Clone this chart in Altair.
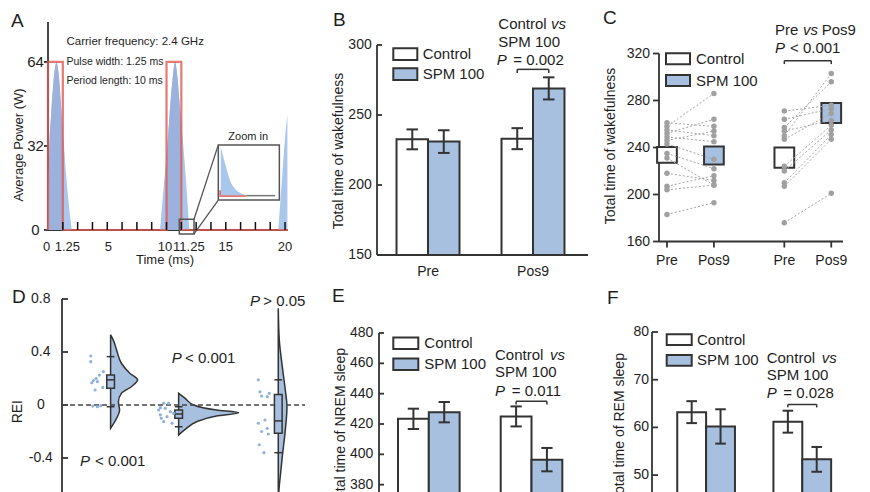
import altair as alt
import pandas as pd

# ============================================================ data
GROUPS = ["Control", "SPM 100"]
PERIODS = ["Pre", "Pos9"]

# A: pulse train (time in ms, power in W)
PULSE1_T = [0.0, 0.03, 0.11, 0.25, 0.45, 0.6, 0.73, 0.85, 0.93, 1.07, 1.2, 1.35, 1.55, 1.72, 2.0]
PULSE1_P = [0, 11, 30, 43, 56, 62, 64, 61, 58, 49.5, 41, 32, 20, 11.4, 0]
PULSE2_T = [9.45, 9.79, 10.07, 10.35, 10.55, 10.72, 10.9, 11.08, 11.42, 11.7, 11.92]
PULSE2_P = [0, 17.8, 32, 49.5, 59, 64, 59, 49.5, 32, 15.2, 0]
PULSE3_T = [19.43, 19.72, 19.92, 20.06, 20.2]
PULSE3_P = [0, 17.8, 30.5, 38, 44]
# part of each pulse inside the 1.25 ms window (drawn darker in the figure)
INNER1_T = [0.0, 0.03, 0.11, 0.25, 0.45, 0.6, 0.73, 0.85, 0.93, 1.07, 1.2, 1.25]
INNER1_P = [0, 11, 30, 43, 56, 62, 64, 61, 58, 49.5, 41, 38]
INNER2_T = [10.0, 10.07, 10.35, 10.55, 10.72, 10.9, 11.08, 11.25]
INNER2_P = [28.5, 32, 49.5, 59, 64, 59, 49.5, 41]
SIGNAL_T = [0, 0, 1.25, 1.25, 10, 10, 11.25, 11.25, 20.25]
SIGNAL_P = [0, 64, 64, 0, 0, 64, 64, 0, 0]
A_MINOR_TICKS = [1.25, 2.5, 3.75, 5, 6.25, 7.5, 8.75, 10, 11.25, 12.5, 13.75, 15, 16.25, 17.5, 18.75, 20]
A_X_LABELS = [0, 1.25, 5, 10, 11.25, 15, 20]
A_Y_TICKS = [0, 32, 64]
A_NOTES = ["Carrier frequency: 2.4 GHz", "Pulse width: 1.25 ms", "Period length: 10 ms"]
# zoom-in inset, as fractions of the inset box
ZOOM_FX = [0.04, 0.08, 0.14, 0.19, 0.27, 0.36, 0.46]
ZOOM_FY = [0.97, 0.79, 0.55, 0.36, 0.21, 0.13, 0.09]
ZOOM_BASE = 0.08
ZOOM_RED_FX = [0.03, 0.03, 0.46]
ZOOM_RED_FY = [0.18, 0.07, 0.07]
ZOOM_AXIS_FX = [0.46, 0.93]
ZOOM_AXIS_FY = [0.08, 0.08]

# B: total time of wakefulness (mean, SEM)
B_CTRL = [232.6, 233.1]
B_CTRL_SEM = [7.1, 7.5]
B_SPM = [231.0, 269.0]
B_SPM_SEM = [8.1, 7.9]
B_Y_TICKS = [150, 200, 250, 300]

# C: individual animals, Pre -> Pos9
C_G1_PRE = [261, 258, 255, 252, 249, 246, 243, 235, 231, 218, 207, 204, 183]
C_G1_POS9 = [258, 286, 250, 264, 245, 254, 230, 222, 208, 212, 216, 208, 193]
C_G2_PRE = [271, 264, 257, 254, 250, 247, 224, 220, 210, 207, 176]
C_G2_POS9 = [276, 273, 296, 263, 303, 269, 259, 255, 251, 247, 201]
C_BOX_LOW = [227.0, 225.5, 222.7, 260.8]
C_BOX_HIGH = [240.4, 240.8, 240.0, 277.8]
C_BOX_FILL = ["Control", "SPM 100", "Control", "SPM 100"]
C_X_LABELS = ["Pre", "Pos9", "Pre", "Pos9"]
C_Y_TICKS = [160, 200, 240, 280, 320]

# D: REI, half violins + box plots + strip
D_VIOLIN_VAL = [
    [0.53, 0.49, 0.415, 0.315, 0.24, 0.19, 0.14, 0.088, 0.025, -0.04, -0.1, -0.176],
    [0.088, 0.05, 0.0, -0.038, -0.058, -0.083, -0.126, -0.176, -0.226],
    [0.73, 0.49, 0.29, 0.113, -0.013, -0.19, -0.39, -0.54, -0.64, -0.75],
]
D_VIOLIN_DENS = [
    [0, 0.045, 0.10, 0.18, 0.32, 0.45, 0.35, 0.18, 0.13, 0.15, 0.10, 0],
    [0, 0.11, 0.25, 0.63, 1.0, 0.63, 0.30, 0.13, 0],
    [0, 0.017, 0.067, 0.117, 0.145, 0.117, 0.067, 0.033, 0.012, 0.004],
]
D_Q1 = [0.126, -0.100, -0.214]
D_MED = [0.190, -0.068, -0.120]
D_Q3 = [0.226, -0.038, 0.080]
D_WLO = [-0.013, -0.164, -0.360]
D_WHI = [0.365, -0.013, 0.190]
D_DOT_VAL = [
    [0.37, 0.327, 0.252, 0.226, 0.2, 0.184, 0.176, 0.168, 0.133, 0.113, -0.008, -0.013, -0.005],
    [0.013, -0.038, -0.025, -0.05, -0.075, -0.088, -0.126, -0.138, -0.063, 0.013, -0.1, -0.02],
    [0.19, 0.1, 0.068, 0.063, 0.088, -0.138, -0.113, -0.2, -0.176, -0.219, -0.3, -0.36],
]
D_DOT_JITTER_PX = [
    [-19.8, -19.8, -7.2, -11.2, -14.5, -17.2, -13.2, -18.8, -7.8, -15.5, -17.8, -13.2, -9.8],
    [-15, -20, -13.3, -8.3, -18.3, -11.6, -15, -6.6, -5, -10, -17.3, -18.3],
    [-20, -18.3, -16.6, -11, -9, -20, -13.3, -16.6, -11, -10, -19, -14.3],
]
D_Y_TICKS = [-0.4, 0, 0.4, 0.8]
D_P_TEXT = ["< 0.001", "< 0.001", "> 0.05"]

# E: total time of NREM sleep
E_CTRL = [423.4, 425.0]
E_CTRL_SEM = [6.7, 6.6]
E_SPM = [427.8, 396.5]
E_SPM_SEM = [6.7, 7.7]
E_Y_TICKS = [360, 380, 400, 420, 440, 460, 480]

# F: total time of REM sleep
F_CTRL = [63.2, 61.2]
F_CTRL_SEM = [2.3, 2.3]
F_SPM = [60.2, 53.3]
F_SPM_SEM = [3.6, 2.6]
F_Y_TICKS = [40, 50, 60, 70, 80]

# ============================================================ layout / style
M = 8                 # page margin
W, H = 854, 484
FONT = "Liberation Sans"
DARK = "#333333"
TXT = "#1e1e1e"
BLUE = "#a7c0e0"
PULSE_BLUE = "#a9c6ec"
PULSE_INNER = "#9cb2dc"
RED = "#e0574f"
DOT_GRAY = "#a0a0a0"
LINE_GRAY = "#a6a6a6"
DOT_BLUE = "#8fb1de"
FILLS = {"Control": "#ffffff", "SPM 100": BLUE}
BAR_W = 0.3
CAP = 0.055
AX_W = 1.8
A_X_LABEL_SHIFT_PX = [-1.5, 4.5, 1, -1.5, 7.5, 0, 0]   # the figure nudges crowded labels


def px(v):
    return v - M


def lin(domain, p0, p1):
    return alt.Scale(domain=domain, range=[px(p0), px(p1)], nice=False, zero=False)


def upp(domain, p0, p1):
    return (domain[1] - domain[0]) / (p1 - p0)


def XQ(f, s):
    return alt.X(f, type="quantitative", scale=s, axis=None)


def YQ(f, s):
    return alt.Y(f, type="quantitative", scale=s, axis=None, stack=False)


def fmt(v):
    return f"{v:g}"


def v_axis(xs, ys, xd, xr, yd, values, labels, tick_px, inward, gap, fs=14, align="right"):
    """left axis drawn through the panel scales: domain line, ticks, labels"""
    u = upp(xd, *xr)
    a = xd[0]
    dom = pd.DataFrame({"a": [a], "y0": [yd[0]], "y1": [yd[1]]})
    out = [alt.Chart(dom).mark_rule(color=DARK, strokeWidth=AX_W).encode(
        x=XQ("a", xs), y=YQ("y0", ys), y2="y1")]
    tk = pd.DataFrame({"v": values, "lab": labels})
    tk["a"] = a
    tk["b"] = a + (tick_px if inward else -tick_px) * u
    if tick_px > 0:
        out.append(alt.Chart(tk).mark_rule(color=DARK, strokeWidth=AX_W).encode(
            x=XQ("a", xs), x2="b", y=YQ("v", ys)))
    out.append(alt.Chart(tk).mark_text(align=align, baseline="middle", dx=-gap, fontSize=fs,
                                       font=FONT, color=TXT).encode(
        x=XQ("a", xs), y=YQ("v", ys), text="lab:N"))
    return out


def h_axis(xs, ys, xd, xr, yd, yr, values, labels, tick_px, gap, fs=14, shift_px=None):
    """bottom axis drawn through the panel scales"""
    uy = (yd[1] - yd[0]) / (yr[0] - yr[1])
    ux = upp(xd, *xr)
    b = yd[0]
    dom = pd.DataFrame({"x0": [xd[0]], "x1": [xd[1]], "b": [b]})
    out = [alt.Chart(dom).mark_rule(color=DARK, strokeWidth=AX_W).encode(
        x=XQ("x0", xs), x2="x1", y=YQ("b", ys))]
    tk = pd.DataFrame({"v": values, "lab": labels})
    tk["b"] = b
    tk["c"] = b - tick_px * uy
    tk["lx"] = [v + s * ux for v, s in zip(values, shift_px or [0] * len(values))]
    if tick_px > 0:
        out.append(alt.Chart(tk).mark_rule(color=DARK, strokeWidth=AX_W).encode(
            x=XQ("v", xs), y=YQ("b", ys), y2="c"))
    out.append(alt.Chart(tk).mark_text(align="center", baseline="middle", dy=gap, fontSize=fs,
                                       font=FONT, color=TXT).encode(
        x=XQ("lx", xs), y=YQ("b", ys), text="lab:N"))
    return out


# ============================================================ panel A
A_XD, A_XR, A_YD, A_YR = [0, 20.25], (48, 288), [0, 79.2], (230, 22)
xA = lin(A_XD, *A_XR)
yA = lin(A_YD, *A_YR)

pulse_df = pd.concat([pd.DataFrame({"pulse": k, "t": t, "p": p}) for k, (t, p) in
                      enumerate([(PULSE1_T, PULSE1_P), (PULSE2_T, PULSE2_P), (PULSE3_T, PULSE3_P)])],
                     ignore_index=True)
a_pulses = alt.Chart(pulse_df).mark_area(color=PULSE_BLUE, interpolate="monotone").encode(
    x=XQ("t", xA), y=YQ("p", yA), detail="pulse:N")
inner_df = pd.concat([pd.DataFrame({"pulse": k, "t": t, "p": p}) for k, (t, p) in
                      enumerate([(INNER1_T, INNER1_P), (INNER2_T, INNER2_P)])], ignore_index=True)
a_inner = alt.Chart(inner_df).mark_area(color=PULSE_INNER, interpolate="monotone").encode(
    x=XQ("t", xA), y=YQ("p", yA), detail="pulse:N")

sig_df = pd.DataFrame({"i": range(len(SIGNAL_T)), "t": SIGNAL_T, "p": SIGNAL_P})
a_signal = alt.Chart(sig_df).mark_line(color=RED, strokeWidth=2.2, opacity=0.8).encode(
    x=XQ("t", xA), y=YQ("p", yA), order="i:Q")

tick_df = pd.DataFrame({"t": A_MINOR_TICKS})
tick_df["p0"] = 0
tick_df["p1"] = 8 * upp(A_YD, A_YR[1], A_YR[0])
a_ticks = alt.Chart(tick_df).mark_rule(color="#111111", strokeWidth=1.5).encode(
    x=XQ("t", xA), y=YQ("p0", yA), y2="p1")

ZOOM_BOX = (14.37, 19.52, 11.4, 32.4)   # inset box in data units (t0, t1, p0, p1)
SOURCE_BOX = (11.08, 12.32, -1.5, 4.1)


def zt(f):
    return ZOOM_BOX[0] + f * (ZOOM_BOX[1] - ZOOM_BOX[0])


def zp(f):
    return ZOOM_BOX[2] + f * (ZOOM_BOX[3] - ZOOM_BOX[2])


zoom_df = pd.DataFrame({"t": [zt(f) for f in ZOOM_FX], "p": [zp(f) for f in ZOOM_FY]})
zoom_df["pb"] = zp(ZOOM_BASE)
a_zarea = alt.Chart(zoom_df).mark_area(color=PULSE_BLUE, interpolate="monotone").encode(
    x=XQ("t", xA), y=YQ("p", yA), y2="pb")
zred_df = pd.DataFrame({"i": range(3), "t": [zt(f) for f in ZOOM_RED_FX], "p": [zp(f) for f in ZOOM_RED_FY]})
a_zred = alt.Chart(zred_df).mark_line(color=RED, strokeWidth=1.8, opacity=0.8).encode(
    x=XQ("t", xA), y=YQ("p", yA), order="i:Q")
zax_df = pd.DataFrame({"i": range(2), "t": [zt(f) for f in ZOOM_AXIS_FX], "p": [zp(f) for f in ZOOM_AXIS_FY]})
a_zax = alt.Chart(zax_df).mark_line(color="#777777", strokeWidth=1.5).encode(
    x=XQ("t", xA), y=YQ("p", yA), order="i:Q")
boxes_df = pd.DataFrame([SOURCE_BOX, ZOOM_BOX], columns=["t0", "t1", "p0", "p1"])
a_boxes = alt.Chart(boxes_df).mark_rect(fillOpacity=0, stroke="#555555", strokeWidth=1.5).encode(
    x=XQ("t0", xA), x2="t1", y=YQ("p0", yA), y2="p1")
conn_df = pd.DataFrame({"ta": [SOURCE_BOX[1], SOURCE_BOX[1]], "pa": [SOURCE_BOX[3], SOURCE_BOX[2]],
                        "tb": [ZOOM_BOX[0], ZOOM_BOX[0]], "pb": [ZOOM_BOX[3], ZOOM_BOX[2]]})
a_conn = alt.Chart(conn_df).mark_rule(color="#555555", strokeWidth=1.3).encode(
    x=XQ("ta", xA), x2="tb", y=YQ("pa", yA), y2="pb")

a_axes = (v_axis(xA, yA, A_XD, A_XR, A_YD, A_Y_TICKS, [fmt(v) for v in A_Y_TICKS], 4, False,
                 12.5, fs=15, align="center") +
          h_axis(xA, yA, A_XD, A_XR, A_YD, A_YR, A_X_LABELS, [fmt(v) for v in A_X_LABELS], 0, 16.5,
                 fs=13, shift_px=A_X_LABEL_SHIFT_PX))
panel_A = alt.layer(*a_axes, a_pulses, a_inner, a_zarea, a_signal, a_zred, a_zax, a_boxes, a_conn,
                    a_ticks)


# ============================================================ bar panels B, E, F
def bar_panel(ctrl, csem, spm, ssem, xd, xr, yd, yr, yticks, tick_px, gap, br_y, br_tick, x_axis):
    xs, ys = lin(xd, *xr), lin(yd, *yr)
    rows = []
    for i, per in enumerate(PERIODS):
        pos = i + 1
        for g, v, s, x0 in [(GROUPS[0], ctrl[i], csem[i], pos - BAR_W), (GROUPS[1], spm[i], ssem[i], pos)]:
            rows.append(dict(period=per, group=g, val=v, sem=s, x0=x0, x1=x0 + BAR_W,
                             xc=x0 + BAR_W / 2, lo=v - s, hi=v + s, base=yd[0], fillc=FILLS[g]))
    df = pd.DataFrame(rows)
    bars = alt.Chart(df).mark_rect(stroke=DARK, strokeWidth=2).encode(
        x=XQ("x0", xs), x2="x1", y=YQ("val", ys), y2="base",
        fill=alt.Fill("fillc:N", scale=None))
    err = alt.Chart(df).mark_rule(color=DARK, strokeWidth=2).encode(
        x=XQ("xc", xs), y=YQ("lo", ys), y2="hi")
    caps = pd.concat([df[["xc", "lo"]].rename(columns={"lo": "yv"}),
                      df[["xc", "hi"]].rename(columns={"hi": "yv"})], ignore_index=True)
    caps["cl"] = caps.xc - CAP
    caps["cr"] = caps.xc + CAP
    capm = alt.Chart(caps).mark_rule(color=DARK, strokeWidth=2).encode(
        x=XQ("cl", xs), x2="cr", y=YQ("yv", ys))
    xa, xb = 2 - BAR_W / 2, 2 + BAR_W / 2
    brk = pd.DataFrame({"xa": [xa, xa, xb], "xb": [xa, xb, xb],
                        "ya": [br_tick, br_y, br_y], "yb": [br_y, br_y, br_tick]})
    brm = alt.Chart(brk).mark_rule(color=DARK, strokeWidth=1.5).encode(
        x=XQ("xa", xs), x2="xb", y=YQ("ya", ys), y2="yb")
    axes = v_axis(xs, ys, xd, xr, yd, yticks, [fmt(v) for v in yticks], tick_px, True, gap)
    if x_axis:
        axes += h_axis(xs, ys, xd, xr, yd, yr, [1, 2], PERIODS, 0, 17)
    return alt.layer(*axes, bars, err, capm, brm)


panel_B = bar_panel(B_CTRL, B_CTRL_SEM, B_SPM, B_SPM_SEM, [0.514, 2.524], (377, 588),
                    [150, 300], (255, 45), B_Y_TICKS, 5, 5.3, 282.6, 280.0, True)
panel_E = bar_panel(E_CTRL, E_CTRL_SEM, E_SPM, E_SPM_SEM, [0.515, 2.55], (379, 588),
                    [360, 480], (515, 333), E_Y_TICKS, 5, 5.7, 435.0, 432.8, False)
panel_F = bar_panel(F_CTRL, F_CTRL_SEM, F_SPM, F_SPM_SEM, [0.4375, 2.6], (652, 860),
                    [40, 80], (522.8, 332), F_Y_TICKS, 6, 3.0, 64.8, 64.2, False)

# ============================================================ panel C
C_POS = [1, 2, 3.5, 4.5]
C_XD, C_XR, C_YD, C_YR = [0.83, 4.75], (659, 843), [160, 320], (241.5, 53.5)
xC = lin(C_XD, *C_XR)
yC = lin(C_YD, *C_YR)
C_BOX_HALF = 0.21

cbox = pd.DataFrame({"pos": C_POS, "lo": C_BOX_LOW, "hi": C_BOX_HIGH,
                     "fillc": [FILLS[g] for g in C_BOX_FILL]})
cbox["x0"] = cbox.pos - C_BOX_HALF
cbox["x1"] = cbox.pos + C_BOX_HALF
c_boxes = alt.Chart(cbox).mark_rect(stroke=DARK, strokeWidth=2).encode(
    x=XQ("x0", xC), x2="x1", y=YQ("lo", yC), y2="hi",
    fill=alt.Fill("fillc:N", scale=None))
prow = []
for gi, (pre, pos9, p0, p1) in enumerate([(C_G1_PRE, C_G1_POS9, C_POS[0], C_POS[1]),
                                           (C_G2_PRE, C_G2_POS9, C_POS[2], C_POS[3])]):
    for k, (a, b) in enumerate(zip(pre, pos9)):
        prow.append(dict(animal=f"{gi}-{k}", pos=p0, val=a))
        prow.append(dict(animal=f"{gi}-{k}", pos=p1, val=b))
cpts = pd.DataFrame(prow)
c_lines = alt.Chart(cpts).mark_line(color=LINE_GRAY, strokeWidth=1, strokeDash=[2, 2]).encode(
    x=XQ("pos", xC), y=YQ("val", yC), detail="animal:N")
c_dots = alt.Chart(cpts).mark_circle(color=DOT_GRAY, size=30, opacity=1).encode(
    x=XQ("pos", xC), y=YQ("val", yC))
cbrk = pd.DataFrame({"xa": [3.5, 3.5, 4.5], "xb": [3.5, 4.5, 4.5],
                     "ya": [311.0, 313.9, 313.9], "yb": [313.9, 313.9, 311.0]})
c_brk = alt.Chart(cbrk).mark_rule(color=DARK, strokeWidth=1.5).encode(
    x=XQ("xa", xC), x2="xb", y=YQ("ya", yC), y2="yb")
c_axes = (v_axis(xC, yC, C_XD, C_XR, C_YD, C_Y_TICKS, [fmt(v) for v in C_Y_TICKS], 6, False, 9) +
          h_axis(xC, yC, C_XD, C_XR, C_YD, C_YR, C_POS, C_X_LABELS, 6, 19.5))
panel_C = alt.layer(*c_axes, c_boxes, c_lines, c_dots, c_brk)

# ============================================================ panel D
D_XD, D_XR, D_YD, D_YR = [0, 10], (62, 305), [-0.7, 0.8], (497.75, 299)
xD = lin(D_XD, *D_XR)
yD = lin(D_YD, *D_YR)
uD = upp(D_XD, *D_XR)
D_POS = [2.0, 4.8, 8.9]
VIOLIN_MAX_PX = 60
BOX_HALF_PX = 3.85

vrows = []
for g, (pos, vals, dens) in enumerate(zip(D_POS, D_VIOLIN_VAL, D_VIOLIN_DENS)):
    for v, d in zip(vals, dens):
        vrows.append(dict(g=g, val=v, x0=pos, x1=pos + d * VIOLIN_MAX_PX * uD))
vdf = pd.DataFrame(vrows)
d_violin = alt.Chart(vdf).mark_area(orient="horizontal", interpolate="monotone", fill=BLUE,
                                    stroke=DARK, strokeWidth=1.5).encode(
    y=YQ("val", yD), x=alt.X("x0", type="quantitative", scale=xD, axis=None, stack=False),
    x2="x1", detail="g:N")
bdf = pd.DataFrame({"pos": D_POS, "q1": D_Q1, "med": D_MED, "q3": D_Q3, "lo": D_WLO, "hi": D_WHI})
bdf["b0"] = bdf.pos - BOX_HALF_PX * uD
bdf["b1"] = bdf.pos + BOX_HALF_PX * uD
d_box = alt.Chart(bdf).mark_rect(fill=BLUE, stroke=DARK, strokeWidth=1.5).encode(
    x=XQ("b0", xD), x2="b1", y=YQ("q1", yD), y2="q3")
d_med = alt.Chart(bdf).mark_rule(color=DARK, strokeWidth=1.5).encode(
    x=XQ("b0", xD), x2="b1", y=YQ("med", yD))
dcaps = pd.concat([bdf[["b0", "b1", "lo"]].rename(columns={"lo": "yv"}),
                   bdf[["b0", "b1", "hi"]].rename(columns={"hi": "yv"})], ignore_index=True)
d_caps = alt.Chart(dcaps).mark_rule(color=DARK, strokeWidth=1.5).encode(
    x=XQ("b0", xD), x2="b1", y=YQ("yv", yD))
drows = []
for pos, vals, jit in zip(D_POS, D_DOT_VAL, D_DOT_JITTER_PX):
    for v, j in zip(vals, jit):
        drows.append(dict(x=pos + j * uD, val=v))
d_dots = alt.Chart(pd.DataFrame(drows)).mark_circle(color=DOT_BLUE, size=10, opacity=1).encode(
    x=XQ("x", xD), y=YQ("val", yD))
zero_df = pd.DataFrame({"a": [D_XD[0]], "b": [D_XD[1]], "v": [0]})
d_zero = alt.Chart(zero_df).mark_rule(color="#444444", strokeWidth=1.5, strokeDash=[5, 3]).encode(
    x=XQ("a", xD), x2="b", y=YQ("v", yD))
d_axes = v_axis(xD, yD, D_XD, D_XR, D_YD, D_Y_TICKS, [fmt(v) for v in D_Y_TICKS], 6, True,
                21.2, align="center")
panel_D = alt.layer(*d_axes, d_violin, d_zero, d_box, d_med, d_caps, d_dots)

# ============================================================ overlay: letters, notes, titles, legends
TEXTS = [
    ("A", 11, 21, 19, False), ("B", 333, 20, 19, False), ("C", 603, 18, 19, False),
    ("D", 12, 297, 19, False), ("E", 332, 296, 19, False), ("F", 607, 298, 19, False),
    (A_NOTES[0], 66.5, 42.3, 11.5, False),
    (A_NOTES[1], 66.5, 62.3, 10.5, False),
    (A_NOTES[2], 66.5, 80.7, 10.5, False),
    ("Zoom in", 228.3, 137, 11, False),
    # B
    (GROUPS[0], 498.3, 24.2, 15, False), ("vs", 551, 24.2, 15, True), (GROUPS[1], 498.3, 42, 15, False),
    ("P", 496.7, 60.3, 15, True), ("= 0.002", 513.3, 60.3, 15, False),
    # C
    (PERIODS[0], 775, 30.4, 15, False), ("vs", 803, 30.4, 15, True), (PERIODS[1], 821.7, 30.4, 15, False),
    ("P", 775, 48, 15, True), ("< 0.001", 790, 48, 15, False),
    # D
    ("P", 80, 460.8, 15, True), (D_P_TEXT[0], 95, 460.8, 15, False),
    ("P", 171.7, 357.5, 15, True), (D_P_TEXT[1], 185, 357.5, 15, False),
    ("P", 250, 301, 15, True), (D_P_TEXT[2], 263.3, 301, 15, False),
    # E
    (GROUPS[0], 495, 355, 15, False), ("vs", 550, 355, 15, True), (GROUPS[1], 495, 372, 15, False),
    ("P", 495, 390.5, 15, True), ("= 0.011", 511.7, 390.5, 15, False),
    # F
    (GROUPS[0], 766.7, 357.5, 15, False), ("vs", 821.7, 357.5, 15, True), (GROUPS[1], 766.7, 375, 15, False),
    ("P", 766.7, 393.3, 15, True), ("= 0.028", 783.3, 393.3, 15, False),
]
# axis titles: (text, centre x, centre y, size, angle)
TITLES = [
    ("Average Power (W)", 19, 145, 13, 270),
    ("Time (ms)", 165, 260, 13, 0),
    ("Total time of wakefulness", 339, 151, 14, 270),
    ("Total time of wakefulness", 611, 146, 14, 270),
    ("REI", 17.5, 411.7, 14, 270),
    ("Total time of NREM sleep", 341, 427, 14, 270),
    ("Total time of REM sleep", 619.5, 427, 14, 270),
]
# legend boxes: (box x0, box x1, text x, row centres, box height)
LEGENDS = [
    (393.3, 417.3, 421.7, (54.2, 74.2), 11.7),
    (666.0, 690.0, 695.0, (58.8, 80.5), 11.0),
    (393.3, 418.3, 423.3, (343.3, 364.2), 11.5),
    (666.7, 691.7, 696.0, (339.7, 360.3), 10.7),
]
leg_rows = []
texts = list(TEXTS)
for bx0, bx1, tx, ycs, hh in LEGENDS:
    for g, yc in zip(GROUPS, ycs):
        leg_rows.append(dict(x0=px(bx0), x1=px(bx1), y0=px(yc - hh / 2), y1=px(yc + hh / 2), fillc=FILLS[g]))
        texts.append((g, tx + 1, yc, 15, False))
leg_df = pd.DataFrame(leg_rows)
o_leg = alt.Chart(leg_df).mark_rect(stroke=DARK, strokeWidth=2).encode(
    x=alt.X("x0:Q", scale=None, axis=None), x2="x1",
    y=alt.Y("y0:Q", scale=None, axis=None), y2="y1",
    fill=alt.Fill("fillc:N", scale=None))
txt_df = pd.DataFrame(texts, columns=["text", "x", "y", "fs", "italic"])
txt_df["cx"] = txt_df.x - M
txt_df["cy"] = txt_df.y - M


def text_layer(italic):
    return alt.Chart(txt_df).transform_filter(
        "datum.italic" if italic else "!datum.italic"
    ).mark_text(align="left", baseline="middle", font=FONT, color=TXT,
                fontStyle="italic" if italic else "normal").encode(
        x=alt.X("cx:Q", scale=None, axis=None), y=alt.Y("cy:Q", scale=None, axis=None),
        text="text:N", size=alt.Size("fs:Q", scale=None))


ttl_df = pd.DataFrame(TITLES, columns=["text", "x", "y", "fs", "ang"])
ttl_df["cx"] = ttl_df.x - M
ttl_df["cy"] = ttl_df.y - M
o_titles = alt.Chart(ttl_df).mark_text(align="center", baseline="middle", font=FONT, color=TXT).encode(
    x=alt.X("cx:Q", scale=None, axis=None), y=alt.Y("cy:Q", scale=None, axis=None),
    text="text:N", size=alt.Size("fs:Q", scale=None), angle=alt.Angle("ang:Q", scale=None))

overlay = alt.layer(o_leg, text_layer(False), text_layer(True), o_titles)

chart = alt.layer(panel_A, panel_B, panel_C, panel_D, panel_E, panel_F, overlay).resolve_scale(
    x="independent", y="independent"
).properties(
    width=W, height=H, padding=0, autosize=alt.AutoSizeParams(type="none")
).configure_view(strokeWidth=0).configure_text(font=FONT)

chart.save("out.html", embed_options={"renderer": "svg", "actions": False})
